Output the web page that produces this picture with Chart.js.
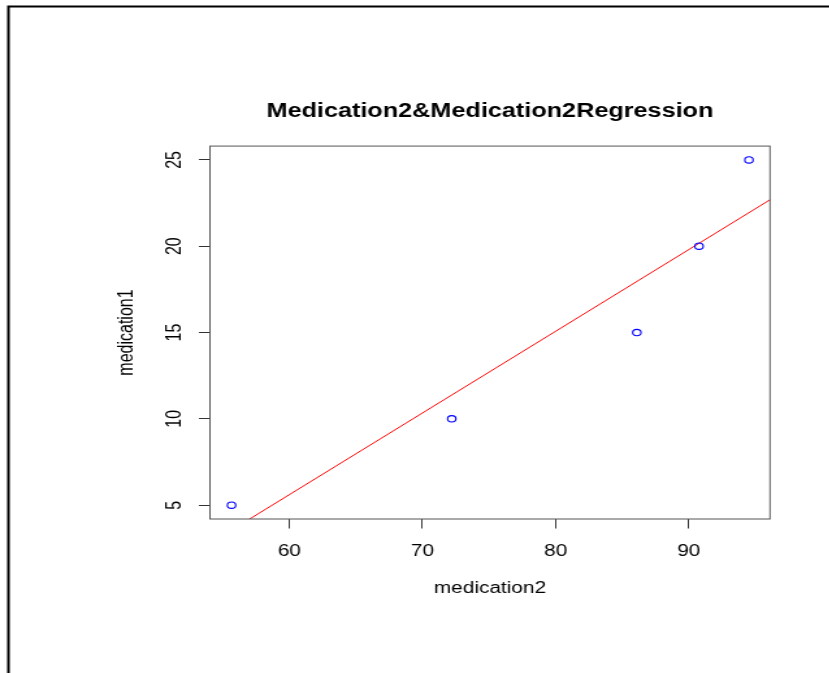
<!DOCTYPE html>
<html>
<head>
<meta charset="utf-8">
<script src="https://cdn.jsdelivr.net/npm/chart.js@4/dist/chart.umd.min.js"></script>
<style>
    html, body { margin: 0; padding: 0; background: #fff; overflow: hidden; }
    #wrap {
        position: relative;
        width: 638px;
        height: 673px;
        transform: scaleX(1.3);
        transform-origin: 0 0;
    }
</style>
</head>
<body>
<div id="wrap"><canvas id="chart"></canvas></div>
<script>
const medication2 = [55.66, 72.2, 86.1, 90.77, 94.52];
const medication1 = [5, 10, 15, 20, 25];
const fitX = [54, 98];
const fitY = [2.77, 23.59];
const xTicks = [60, 70, 80, 90];
const yTicks = [5, 10, 15, 20, 25];

const fontFamily = "'Liberation Sans', Arial, sans-serif";
const ctx = document.getElementById("chart");

// frame of the plot region plus the window edges
const framePlugin = {
    id: 'frame',
    afterDraw(chart) {
        const c = chart.ctx;
        const a = chart.chartArea;
        c.save();
        c.strokeStyle = '#555';
        c.lineWidth = 1;
        c.strokeRect(a.left, a.top, a.right - a.left, a.bottom - a.top);
        c.strokeStyle = '#000';
        c.lineWidth = 2;
        c.beginPath();
        c.moveTo(6.5, 673);
        c.lineTo(6.5, 6.5);
        c.lineTo(chart.width, 6.5);
        c.stroke();
        c.restore();
    }
};

function fixedTicks(list) {
    return function (scale) {
        scale.ticks = list.map((v) => ({value: v}));
    };
}

let mainChart = new Chart(ctx, {
    type: 'scatter',
    data: {
        datasets: [
            {
                label: 'medication',
                data: medication2.map((x, i) => ({x: x, y: medication1[i]})),
                showLine: false,
                pointStyle: 'circle',
                pointRadius: 3.2,
                pointHoverRadius: 3.2,
                borderColor: '#0000ff',
                backgroundColor: 'rgba(0,0,0,0)',
                borderWidth: 1.1,
            },
            {
                label: 'regression',
                data: fitX.map((x, i) => ({x: x, y: fitY[i]})),
                showLine: true,
                pointRadius: 0,
                borderColor: '#ff0000',
                borderWidth: 1,
                fill: false,
            },
        ],
    },
    plugins: [framePlugin],
    options: {
        responsive: true,
        maintainAspectRatio: false,
        animation: false,
        events: [],
        layout: {
            padding: {left: 0, top: 0, right: 45.7, bottom: 74.4},
        },
        plugins: {
            legend: {display: false},
            tooltip: {enabled: false},
            title: {
                display: true,
                fullSize: false,
                text: 'Medication2&Medication2Regression',
                color: '#000',
                font: {family: fontFamily, size: 19.4, weight: 'bold'},
                padding: {top: 100, bottom: 22.8},
            },
        },
        scales: {
            x: {
                type: 'linear',
                min: 54.04,
                max: 96.1,
                afterBuildTicks: fixedTicks(xTicks),
                afterFit: (scale) => { scale.height = 79.6; },
                grid: {drawOnChartArea: false, tickLength: 9.5, tickColor: '#333', tickWidth: 1},
                border: {display: false},
                ticks: {color: '#000', padding: 13, font: {family: fontFamily, size: 16}},
                title: {
                    display: true,
                    text: 'medication2',
                    color: '#000',
                    font: {family: fontFamily, size: 16},
                    padding: {top: 0, bottom: 0},
                },
            },
            y: {
                type: 'linear',
                min: 4.2,
                max: 25.8,
                afterBuildTicks: fixedTicks(yTicks),
                afterFit: (scale) => { scale.width = 161.5; },
                grid: {drawOnChartArea: false, tickLength: 8.5, tickColor: '#333', tickWidth: 1},
                border: {display: false},
                ticks: {
                    color: '#000',
                    padding: 9.9,
                    minRotation: 90,
                    maxRotation: 90,
                    crossAlign: 'center',
                    font: {family: fontFamily, size: 16},
                },
                title: {
                    display: true,
                    text: 'medication1',
                    color: '#000',
                    font: {family: fontFamily, size: 16},
                    padding: {top: 88.1, bottom: 0},
                },
            },
        },
    },
});
</script>
</body>
</html>
